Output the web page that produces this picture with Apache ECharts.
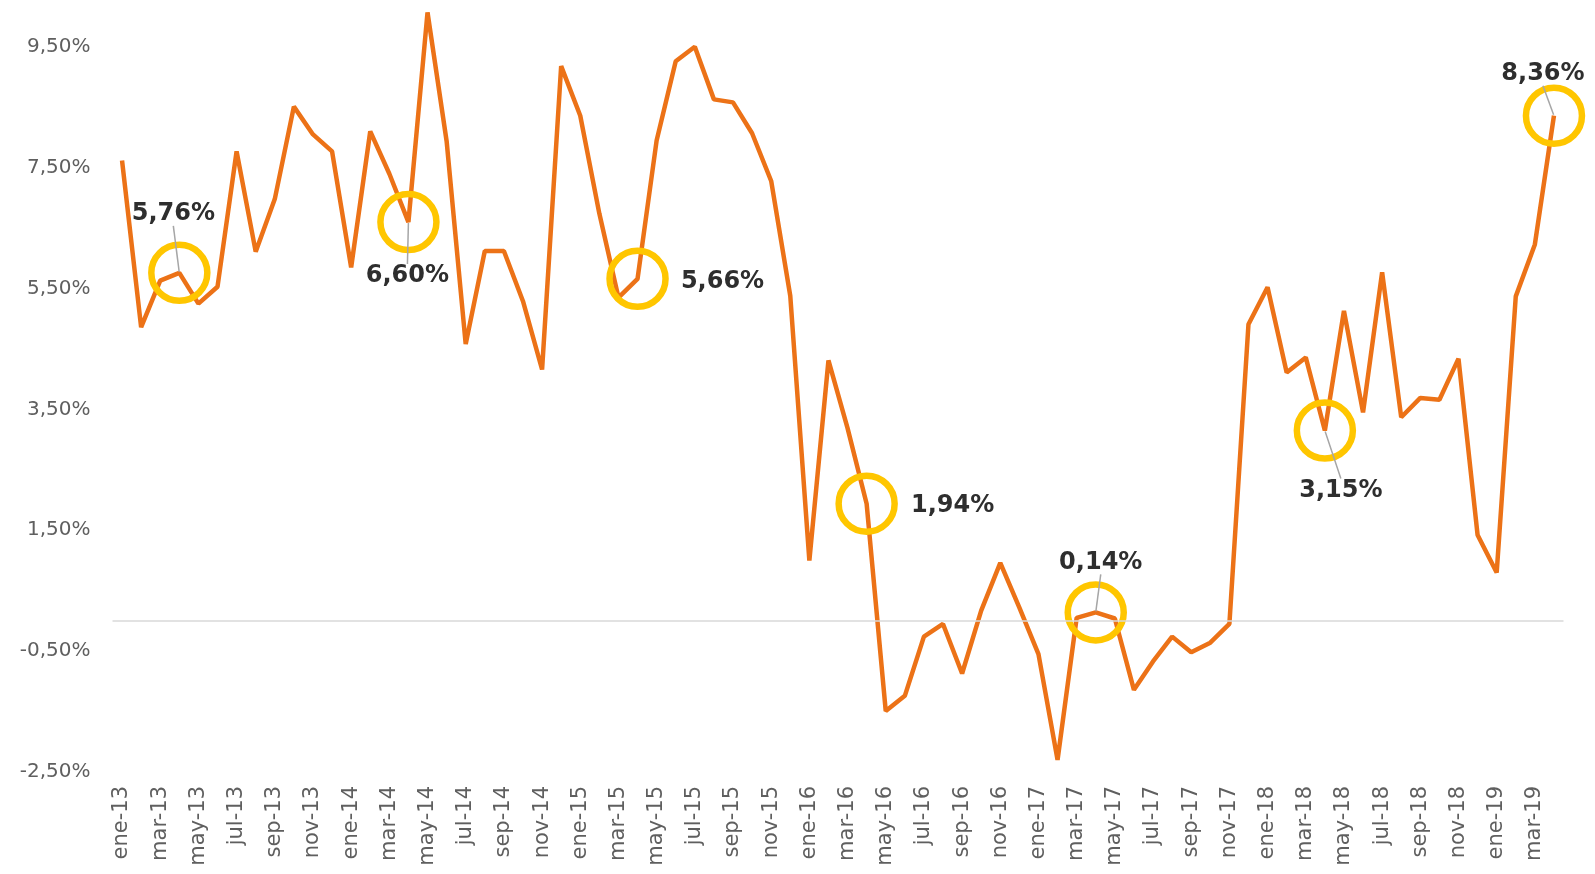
<!DOCTYPE html>
<html>
<head>
<meta charset="utf-8" />
<title>Variación interanual</title>
<script type="text/javascript" src="https://cdn.jsdelivr.net/npm/echarts@6/dist/echarts.min.js"></script>
<style type="text/css">
html, body {
	width: 100%;
	height: 100%;
	margin: 0;
	background: #fff;
}
#main {
	width: 1595px;
	height: 874px;
}
</style>
</head>
<body>
<div id="main"></div>
<script type="text/javascript">
var monthNames = ['ene', 'feb', 'mar', 'abr', 'may', 'jun', 'jul', 'ago', 'sep', 'oct', 'nov', 'dic'];
var years = ['13', '14', '15', '16', '17', '18', '19'];
var lastMonthCount = 4; // ene-19 .. abr-19

// variación (%) mensual, ene-13 .. abr-19
var values = [
	7.62, 4.86, 5.63, 5.76, 5.25, 5.53, 7.77, 6.11, 6.98, 8.51, 8.05, 7.77,
	5.85, 8.10, 7.40, 6.60, 10.07, 7.94, 4.58, 6.12, 6.12, 5.29, 4.16, 9.18,
	8.36, 6.74, 5.35, 5.66, 7.95, 9.26, 9.50, 8.63, 8.58, 8.07, 7.28, 5.38,
	1.00, 4.31, 3.19, 1.94, -1.49, -1.24, -0.26, -0.05, -0.87, 0.17, 0.96, 0.22,
	-0.55, -2.30, 0.05, 0.14, 0.04, -1.14, -0.67, -0.26, -0.52, -0.36, -0.05, 4.91,
	5.52, 4.11, 4.36, 3.15, 5.13, 3.45, 5.77, 3.37, 3.69, 3.66, 4.34, 1.42,
	0.80, 5.37, 6.23, 8.36
];

// puntos destacados (índice en values)
var highlighted = [3, 15, 27, 39, 51, 63, 75];
var yTicks = [-2.5, -0.5, 1.5, 3.5, 5.5, 7.5, 9.5];

var categories = [];
years.forEach(function (y, yi) {
	var n = yi === years.length - 1 ? lastMonthCount : 12;
	for (var m = 0; m < n; m++) {
		categories.push(monthNames[m] + '-' + y);
	}
});

function pct(v) {
	return v.toFixed(2).replace('.', ',') + '%';
}

// label offsets from the point (px)
var labelOffsets = {
	3: [-6, -59],
	15: [-1, 54],
	27: [85, 3],
	39: [86, 2],
	51: [5, -50],
	63: [16, 60],
	75: [-11, -42]
};
var noLeader = { 27: true, 39: true };

var ringData = highlighted.map(function (i) {
	return [i, values[i]];
});
var labelData = highlighted.map(function (i) {
	return {
		value: [i, values[i]],
		labelLine: { show: !noLeader[i] }
	};
});

var fontFamily = '"DejaVu Sans", Lato, sans-serif';
var chart = echarts.init(document.getElementById('main'));

var option = {
	animation: false,
	grid: {
		left: 112.5,
		right: 31.5,
		top: 4.5,
		bottom: 102
	},
	xAxis: {
		type: 'category',
		data: categories,
		boundaryGap: true,
		axisLine: { show: false },
		axisTick: { show: false },
		axisLabel: {
			interval: 1,
			rotate: 90,
			margin: 14,
			color: '#5f5f5f',
			fontSize: 21,
			fontFamily: fontFamily
		},
		splitLine: { show: false }
	},
	yAxis: {
		type: 'value',
		min: -2.5,
		max: 10.2,
		axisLine: { show: false },
		axisTick: { show: false },
		splitLine: { show: false },
		axisLabel: {
			customValues: yTicks,
			margin: 22,
			color: '#5f5f5f',
			fontSize: 20,
			fontFamily: fontFamily,
			formatter: function (v) { return pct(v); }
		}
	},
	series: [{
		type: 'line',
		data: values,
		showSymbol: false,
		z: 2,
		lineStyle: { color: '#EC7217', width: 4.5 },
		markLine: {
			silent: true,
			symbol: 'none',
			label: { show: false },
			lineStyle: { color: '#D9D9D9', width: 1.5, type: 'solid' },
			data: [{ yAxis: 0 }]
		}
	}, {
		type: 'scatter',
		data: ringData,
		z: 3,
		symbol: 'circle',
		symbolSize: 56,
		itemStyle: {
			color: 'rgba(0,0,0,0)',
			borderColor: '#FFC600',
			borderWidth: 6.5,
			opacity: 1
		}
	}, {
		type: 'scatter',
		data: labelData,
		z: 4,
		symbol: 'circle',
		symbolSize: 2,
		itemStyle: { color: 'rgba(0,0,0,0)' },
		label: {
			show: true,
			position: 'inside',
			color: '#2e2e2e',
			opacity: 1,
			textBorderWidth: 0,
			fontSize: 24,
			fontWeight: 'bold',
			fontFamily: fontFamily,
			formatter: function (p) { return pct(p.value[1]); }
		},
		labelLine: {
			show: true,
			lineStyle: { color: '#A6A6A6', width: 1.5 }
		},
		labelLayout: function (params) {
			var i = highlighted[params.dataIndex];
			var o = labelOffsets[i];
			return { dx: o[0], dy: o[1] };
		}
	}]
};

chart.setOption(option);
</script>
</body>
</html>
